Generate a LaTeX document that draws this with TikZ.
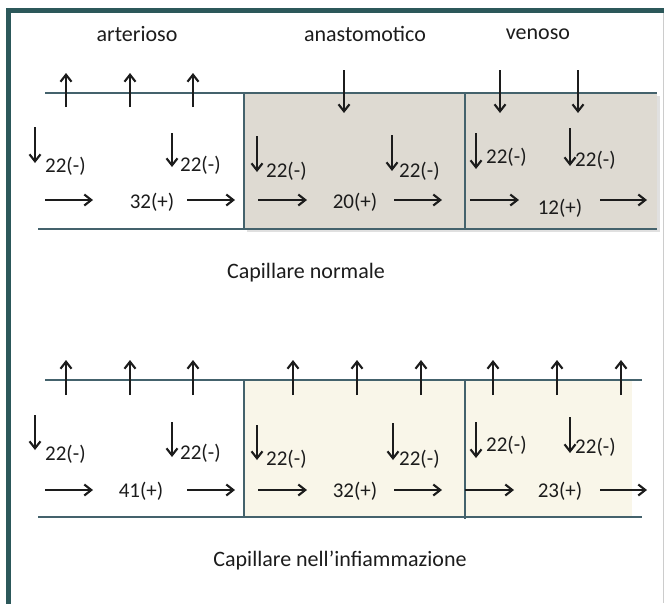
\documentclass[tikz,border=0pt]{standalone}
\usepackage{fontspec}
\setmainfont{Carlito}
\usetikzlibrary{arrows.meta}
\definecolor{frameteal}{RGB}{44,88,90}
\definecolor{wallline}{RGB}{68,98,108}
\definecolor{shadeA}{RGB}{222,218,210}
\definecolor{shadeB}{RGB}{249,246,233}
\definecolor{ink}{RGB}{28,28,28}
\begin{document}
\begin{tikzpicture}[x=1pt,y=-1pt,
  flow/.style={-{Straight Barb[length=7pt,width=11pt,line width=2.1pt]}, line width=1.5pt, ink},
  wall/.style={line width=1.7pt, wallline},
  head/.style={font=\fontsize{22}{26}\selectfont, inner sep=0pt, text=ink},
  lbl/.style={font=\fontsize{21}{25}\selectfont, inner sep=0pt, text=ink},
  lblw/.style={lbl, anchor=west}]
\useasboundingbox (0,0) rectangle (664,603);
\clip (0,0) rectangle (664,603);
% outer frame
\fill[white] (0,0) rectangle (664,603);
\draw[line width=4.5pt, frameteal] (8.5,620) -- (8.5,10.5) -- (680,10.5);
\draw[line width=0.8pt, black!20] (663,13) -- (663,603);

% segment titles
\node[head] (tArt) at (137,34) {arterioso};
\node[head] (tAna) at (365,34) {anastomotico};
\node[head] (tVen) at (538,34) {venoso};

% ---------------- normal capillary ----------------
\fill[black!12] (247,96) rectangle (660,232);
\fill[shadeA] (244,93) rectangle (657,229);
\draw[wall] (45,93) -- (657,93);
\draw[wall] (38,229) -- (657,229);
\draw[wall] (244,93) -- (244,229);
\draw[wall] (465,93) -- (465,229);

% filtration out / reabsorption in across the wall
\foreach \x in {66,130,193} \draw[flow] (\x,107) -- (\x,73);
\foreach \x in {344,500,578} \draw[flow] (\x,70) -- (\x,113);

% oncotic pressure
\draw[flow] (35,127) -- (35,163);   \node[lblw] (nA1) at (45,166) {22(-)};
\draw[flow] (172,133) -- (172,167); \node[lblw] (nA2) at (180,165) {22(-)};
\draw[flow] (257,136) -- (257,172); \node[lblw] (nB1) at (266,171) {22(-)};
\draw[flow] (392,135) -- (392,171); \node[lblw] (nB2) at (399,171) {22(-)};
\draw[flow] (476,133) -- (476,169); \node[lblw] (nC1) at (486,157) {22(-)};
\draw[flow] (570,128) -- (570,166); \node[lblw] (nC2) at (575,160) {22(-)};

% hydrostatic pressure along the vessel
\draw[flow] (45,200) -- (93,200);
\node[lbl] (pA) at (152,202) {32(+)};
\draw[flow] (187,200) -- (235,200);
\draw[flow] (258,200) -- (307,200);
\node[lbl] (pB) at (355,202) {20(+)};
\draw[flow] (394,200) -- (442,200);
\draw[flow] (470,200) -- (519,200);
\node[lbl] (pC) at (560,208) {12(+)};
\draw[flow] (600,200) -- (647,200);

\node[head] (capN) at (306,273) {Capillare normale};

% ---------------- inflamed capillary ----------------
\fill[shadeB] (244,380) rectangle (632,517);
\draw[wall] (45,380) -- (642,380);
\draw[wall] (38,517) -- (642,517);
\draw[wall] (244,380) -- (244,517);
\draw[wall] (465,380) -- (465,519);

\foreach \x in {66,130,193,293,357,421,493,557,621} \draw[flow] (\x,395) -- (\x,360);

\draw[flow] (35,415) -- (35,450);   \node[lblw] (iA1) at (45,454) {22(-)};
\draw[flow] (172,422) -- (172,457); \node[lblw] (iA2) at (180,453) {22(-)};
\draw[flow] (257,425) -- (257,460); \node[lblw] (iB1) at (266,459) {22(-)};
\draw[flow] (393,423) -- (393,460); \node[lblw] (iB2) at (399,459) {22(-)};
\draw[flow] (476,422) -- (476,458); \node[lblw] (iC1) at (486,445) {22(-)};
\draw[flow] (570,417) -- (570,453); \node[lblw] (iC2) at (575,447) {22(-)};

\draw[flow] (45,490) -- (93,490);
\node[lbl] (qA) at (141,491) {41(+)};
\draw[flow] (187,490) -- (235,490);
\draw[flow] (258,490) -- (307,490);
\node[lbl] (qB) at (355,491) {32(+)};
\draw[flow] (394,490) -- (442,490);
\draw[flow] (465,490) -- (514,490);
\node[lbl] (qC) at (560,491) {23(+)};
\draw[flow] (600,490) -- (647,490);

\node[head] (capI) at (340,561) {Capillare nell’infiammazione};
\end{tikzpicture}
\end{document}
